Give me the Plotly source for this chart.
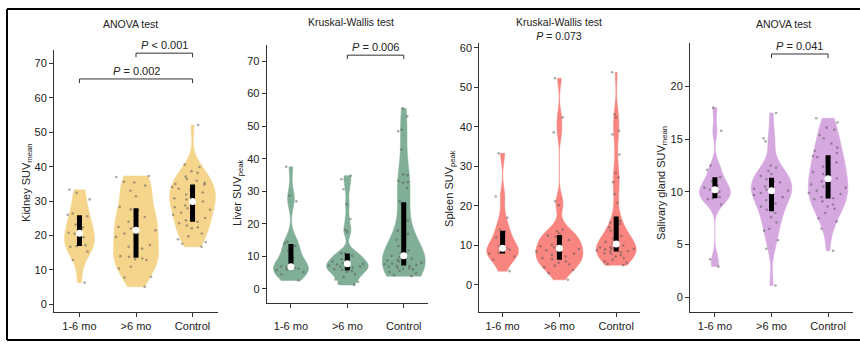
import numpy as np
import plotly.graph_objects as go

categories = ["1-6 mo", ">6 mo", "Control"]

# Kidney SUVmean
kidney_1_6 = [33.3, 32.4, 30.5, 26.4, 26.0, 25.6, 23.2, 22.3, 20.8, 20.5, 19.5, 17.7, 17.2, 16.9, 16.7, 15.3, 12.9, 6.3]
kidney_gt6 = [37.3, 37.0, 35.6, 35.4, 34.5, 33.0, 31.4, 28.3, 27.6, 27.3, 25.4, 24.9, 24.0, 22.5, 22.0, 21.5,
              20.6, 19.6, 17.2, 16.7, 16.2, 14.0, 13.8, 13.3, 13.1, 12.9, 10.9, 10.4, 8.0, 7.8, 5.1]
kidney_ctrl = [52.1, 40.6, 39.9, 38.7, 38.2, 37.1, 36.4, 35.9, 35.3, 35.0, 34.8, 34.1, 33.6, 33.2, 32.5, 31.9,
               31.6, 30.8, 30.5, 30.1, 29.9, 29.6, 28.7, 28.2, 27.9, 27.5, 26.6, 26.0, 25.1, 24.4, 24.0, 23.6,
               22.9, 22.4, 22.1, 20.6, 19.8, 18.9, 18.1, 17.6, 16.7]

# Liver SUVpeak
liver_1_6 = [37.5, 28.6, 26.9, 14.5, 14.0, 13.2, 11.8, 9.6, 6.9, 6.7, 6.5, 6.4, 6.2, 6.0, 5.8, 5.2, 4.5, 2.6]
liver_gt6 = [34.8, 33.7, 30.6, 26.0, 21.5, 18.1, 17.6, 11.0, 10.8, 10.5, 10.2, 9.8, 9.1, 8.4, 7.9, 7.7,
             7.5, 7.2, 6.9, 6.8, 6.5, 6.1, 5.8, 5.5, 5.2, 4.6, 3.7, 2.9, 2.2, 1.6, 1.2]
liver_ctrl = [55.5, 53.0, 48.9, 48.4, 42.8, 35.2, 34.9, 33.2, 32.8, 32.6, 31.0, 27.0, 26.2, 24.5, 21.0, 17.9,
              16.9, 15.0, 13.2, 12.5, 11.8, 11.0, 10.6, 10.2, 9.8, 9.5, 9.3, 9.1, 8.9, 8.7, 8.4, 8.0,
              7.8, 7.6, 7.3, 7.1, 7.0, 6.8, 6.5, 6.4, 6.2, 6.0, 5.6, 5.2, 4.8, 4.2, 3.9]

# Spleen SUVpeak
spleen_1_6 = [33.3, 22.4, 17.0, 14.0, 13.5, 12.0, 9.8, 9.3, 9.0, 8.9, 8.1, 7.9, 7.2, 6.4, 3.5]
spleen_gt6 = [52.3, 42.4, 38.6, 21.2, 20.2, 14.0, 13.6, 13.1, 12.5, 12.2, 12.0, 11.4, 10.8, 10.2, 9.8, 9.5,
              9.1, 8.8, 8.5, 8.0, 7.6, 7.2, 6.8, 6.5, 6.0, 5.6, 5.2, 4.9, 4.5, 3.8, 3.0, 1.3]
spleen_ctrl = [53.8, 43.2, 42.4, 39.0, 38.1, 33.0, 28.4, 27.2, 26.0, 23.0, 20.8, 16.2, 15.8, 15.5, 14.6, 13.8,
               13.0, 12.4, 11.8, 11.2, 10.9, 10.5, 10.2, 10.0, 9.8, 9.6, 9.5, 9.2, 9.1, 9.0, 8.8, 8.6,
               8.5, 8.3, 8.0, 7.9, 7.6, 7.2, 6.8, 6.4, 6.0, 5.7, 5.3, 5.0]

# Salivary gland SUVmean
saliv_1_6 = [18.0, 15.8, 12.5, 12.1, 11.4, 11.0, 10.6, 10.4, 10.2, 10.0, 9.8, 9.5, 9.4, 9.3, 8.8, 3.6, 2.9]
saliv_gt6 = [17.5, 15.1, 14.8, 12.5, 12.3, 12.0, 11.7, 11.5, 11.2, 11.0, 10.9, 10.7, 10.5, 10.3, 10.2, 10.1,
             9.9, 9.7, 9.5, 9.2, 8.9, 8.6, 8.3, 8.0, 7.6, 7.1, 6.5, 6.3, 5.4, 4.6, 1.1]
saliv_ctrl = [17.0, 16.6, 16.1, 15.9, 15.4, 15.1, 14.6, 14.2, 13.9, 13.7, 13.4, 13.3, 13.0, 12.8, 12.4, 12.3,
              11.9, 11.7, 11.6, 11.3, 11.2, 11.0, 10.7, 10.5, 10.4, 10.1, 9.9, 9.8, 9.5, 9.4, 9.3, 9.1,
              8.8, 8.6, 8.4, 8.0, 7.5, 7.2, 6.5, 4.4]

panel_titles = ["ANOVA test", "Kruskal-Wallis test", "Kruskal-Wallis test<br><i>P</i> = 0.073", "ANOVA test"]
y_titles = ["Kidney SUV<sub>mean</sub>", "Liver SUV<sub>peak</sub>", "Spleen SUV<sub>peak</sub>",
            "Salivary gland SUV<sub>mean</sub>"]
y_tickvals = [[0, 10, 20, 30, 40, 50, 60, 70], [0, 10, 20, 30, 40, 50, 60, 70],
              [0, 10, 20, 30, 40, 50, 60], [0, 5, 10, 15, 20]]
# comparisons: (panel, group a, group b, label)
comparisons = [(0, 0, 2, "<i>P</i> = 0.002"), (0, 1, 2, "<i>P</i> < 0.001"),
               (1, 1, 2, "<i>P</i> = 0.006"), (3, 1, 2, "<i>P</i> = 0.041")]

panel_data = [
    [kidney_1_6, kidney_gt6, kidney_ctrl],
    [liver_1_6, liver_gt6, liver_ctrl],
    [spleen_1_6, spleen_gt6, spleen_ctrl],
    [saliv_1_6, saliv_gt6, saliv_ctrl],
]

# ---- styling / layout (pixels) ----
W, H = 860, 343
colors = ["#F5D58B", "#80AE97", "#F8857F", "#D6A8E0"]
violin_widths = [[0.53, 0.80, 0.81], [0.62, 0.74, 0.76], [0.56, 0.83, 0.70], [0.55, 0.72, 0.70]]
x_px = [(54, 218), (266.7, 428), (479.3, 639.5), (690, 853)]
y_px = [(48, 311.7), (43, 302.7), (41.7, 311.7), (41.7, 311.7)]
x_ranges = [[-0.45, 2.45], [-0.43, 2.43], [-0.41, 2.41], [-0.44, 2.44]]
y_ranges = [[-2.2, 74], [-4.3, 75], [-6.8, 61.1], [-1.4, 24.1]]
bracket_y = {(0, 0, 2): 65.5, (0, 1, 2): 73.0, (1, 1, 2): 71.8, (3, 1, 2): 23.1}
title_y_px = [21.7, 20.5, 27.5, 22]
title_x_px = [130, 350.7, 559, 783]
label_standoff = [0, 9, 0, 0]
ytitle_x_px = [27, 238, 450, 662]
ytitle_y_px = [182, 192, 188, 182]

FONT = "Arial, Liberation Sans, Helvetica, sans-serif"
AX = "#333333"

fig = go.Figure()

for p in range(4):
    xa = "x" if p == 0 else f"x{p+1}"
    ya = "y" if p == 0 else f"y{p+1}"
    for i, vals in enumerate(panel_data[p]):
        arr = np.asarray(vals, dtype=float)
        n = len(arr)
        q1, med, q3 = np.percentile(arr, [25, 50, 75])
        sd = arr.std(ddof=1)
        bw = 0.9 * min(sd, (q3 - q1) / 1.34) * n ** (-0.2)
        fig.add_trace(go.Violin(
            x=[i] * n, y=arr, xaxis=xa, yaxis=ya,
            width=violin_widths[p][i], scalemode="width",
            fillcolor=colors[p], line=dict(color=colors[p], width=0.5), opacity=1,
            spanmode="hard", bandwidth=bw,
            points="all", jitter=1.0, pointpos=0,
            marker=dict(size=2.6, color="rgba(85,85,85,0.5)"),
            box_visible=False, meanline_visible=False, showlegend=False,
            hoveron="points",
        ))
        fig.add_trace(go.Scatter(
            x=[i, i], y=[q1, q3], xaxis=xa, yaxis=ya, mode="lines",
            line=dict(color="black", width=5), showlegend=False, hoverinfo="skip"))
        fig.add_trace(go.Scatter(
            x=[i], y=[med], xaxis=xa, yaxis=ya, mode="markers",
            marker=dict(color="white", size=7, line=dict(width=0)), showlegend=False))

    dom_x = [x_px[p][0] / W, x_px[p][1] / W]
    dom_y = [1 - y_px[p][1] / H, 1 - y_px[p][0] / H]
    xkey = "xaxis" if p == 0 else f"xaxis{p+1}"
    ykey = "yaxis" if p == 0 else f"yaxis{p+1}"
    fig.update_layout(**{
        xkey: dict(domain=dom_x, anchor=ya, range=x_ranges[p], tickvals=[0, 1, 2], ticktext=categories,
                   showline=True, linecolor=AX, linewidth=1, ticks="outside", ticklen=4, tickcolor=AX,
                   showgrid=False, zeroline=False, ticklabelstandoff=label_standoff[p],
                   tickfont=dict(size=11, color="#222")),
        ykey: dict(domain=dom_y, anchor=xa, range=y_ranges[p], tickvals=y_tickvals[p],
                   showline=True, linecolor=AX, linewidth=1, ticks="outside", ticklen=4, tickcolor=AX,
                   showgrid=False, zeroline=False, tickfont=dict(size=11, color="#222")),
    })
    fig.add_annotation(x=title_x_px[p] / W, y=1 - title_y_px[p] / H, xref="paper", yref="paper",
                       text=panel_titles[p], showarrow=False, font=dict(size=10.5, color="#222"),
                       xanchor="center", yanchor="middle")
    fig.add_annotation(x=ytitle_x_px[p] / W, y=1 - ytitle_y_px[p] / H, xref="paper", yref="paper",
                       text=y_titles[p], showarrow=False, textangle=-90,
                       font=dict(size=11, color="#222"), xanchor="center", yanchor="middle")

drops = [1.2, 1.2, 1.4, 0.38]
for (p, a, b, label) in comparisons:
    xa = "x" if p == 0 else f"x{p+1}"
    ya = "y" if p == 0 else f"y{p+1}"
    yb = bracket_y[(p, a, b)]
    d = drops[p]
    fig.add_shape(type="path", xref=xa, yref=ya,
                  path=f"M {a},{yb - d} L {a},{yb} L {b},{yb} L {b},{yb - d}",
                  line=dict(color=AX, width=1))
    fig.add_annotation(x=(a + b) / 2, y=yb, xref=xa, yref=ya, text=label, showarrow=False,
                       yanchor="bottom", yshift=0, font=dict(size=11, color="#222"))

# frame of the figure (left, top, bottom)
for (x0, y0, x1, y1) in [(7 / W, 1 - 7 / H, 7 / W, 1 - 340 / H),
                         (7 / W, 1 - 7 / H, 1, 1 - 7 / H),
                         (7 / W, 1 - 340 / H, 1, 1 - 340 / H)]:
    fig.add_shape(type="line", xref="paper", yref="paper", x0=x0, y0=y0, x1=x1, y1=y1,
                  line=dict(color="black", width=2))

fig.update_layout(width=W, height=H, margin=dict(l=0, r=0, t=0, b=0),
                  plot_bgcolor="white", paper_bgcolor="white", violinmode="overlay",
                  showlegend=False, font=dict(family=FONT, size=11, color="#222"))

fig.write_html("out.html", config={"displayModeBar": False},
               post_script="document.body.style.margin='0';document.body.style.overflow='hidden';")
